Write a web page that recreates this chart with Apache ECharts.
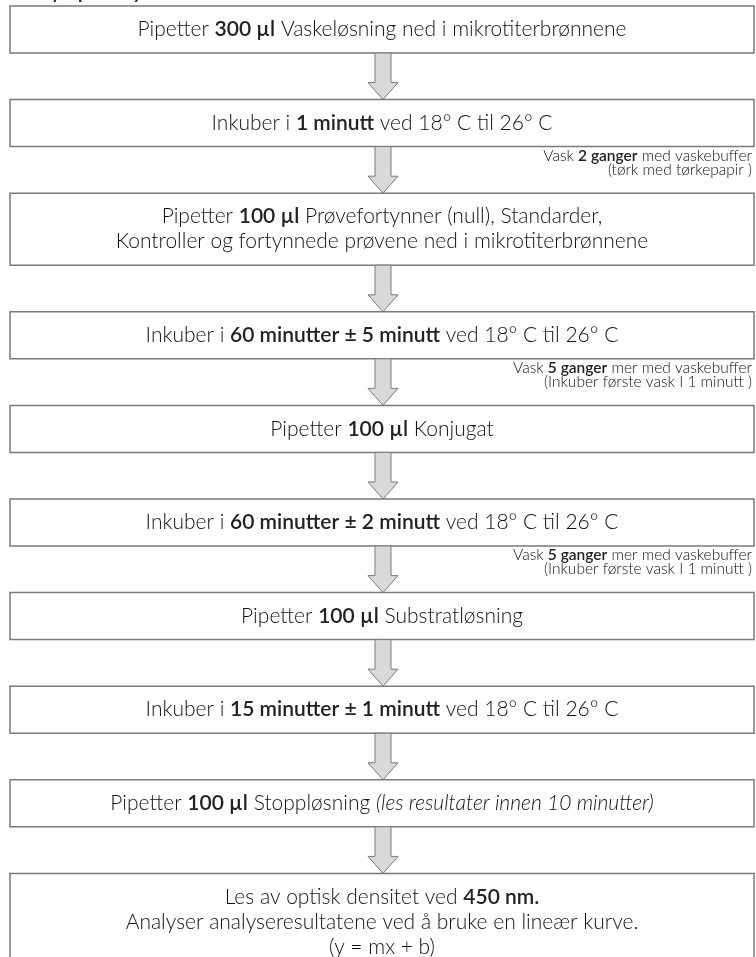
<!DOCTYPE html>
<html>
<head>
<meta charset="utf-8">
<script src="https://cdn.jsdelivr.net/npm/echarts@6/dist/echarts.min.js"></script>
<style>
    html, body { margin: 0; padding: 0; background: #fff; }
    #main { width: 756px; height: 957px; }
</style>
</head>
<body>
<div id="main"></div>
<script>
// tekst for hvert trinn i prosedyren
var pageTitle = 'Analyseprosedyre';
var steps = [
    'Pipetter {b|300 µl} Vaskeløsning ned i mikrotiterbrønnene',
    'Inkuber i {b|1 minutt} ved 18° C til 26° C',
    'Pipetter {b|100 µl} Prøvefortynner (null), Standarder,\nKontroller og fortynnede prøvene ned i mikrotiterbrønnene',
    'Inkuber i {b|60 minutter ± 5 minutt} ved 18° C til 26° C',
    'Pipetter {b|100 µl} Konjugat',
    'Inkuber i {b|60 minutter ± 2 minutt} ved 18° C til 26° C',
    'Pipetter {b|100 µl} Substratløsning',
    'Inkuber i {b|15 minutter ± 1 minutt} ved 18° C til 26° C',
    'Pipetter {b|100 µl} Stoppløsning {i|(les resultater innen 10 minutter)}',
    'Les av optisk densitet ved {b|450 nm.}\nAnalyser analyseresultatene ved å bruke en lineær kurve.\n(y = mx + b)'
];
// merknad ved pilen etter trinnet (tom = ingen)
var notes = [
    '',
    'Vask {b|2 ganger} med vaskebuffer\n(tørk med tørkepapir )',
    '',
    'Vask {b|5 ganger} mer med vaskebuffer\n(Inkuber første vask I 1 minutt )',
    '',
    'Vask {b|5 ganger} mer med vaskebuffer\n(Inkuber første vask I 1 minutt )',
    '',
    '',
    '',
    ''
];

var W = 756, H = 957;
var boxLeft = 10, boxRight = 754, arrowX = 383;
var firstTop = 6, oneLineH = 47, extraLineH = 25, gapH = 46.6;
var font = 'Lato, "Noto Sans", sans-serif';
var textColor = '#111';

var tops = [], bottoms = [];
var yy = firstTop;
for (var i = 0; i < steps.length; i++) {
    var n = steps[i].split('\n').length;
    tops.push(yy);
    bottoms.push(yy + oneLineH + (n - 1) * extraLineH);
    yy = bottoms[i] + gapH;
}

function richStyles(size, lh) {
    return {
        b: {fontWeight: 600, fontSize: size, fontFamily: font, lineHeight: lh, fill: '#222'},
        i: {fontStyle: 'italic', fontWeight: 300, fontSize: size, fontFamily: font, lineHeight: lh, fill: textColor}
    };
}

function renderItem(params, api) {
    var i = params.dataIndex;
    var children = [];
    var tl = api.coord([boxLeft, tops[i]]);
    var br = api.coord([boxRight, bottoms[i]]);
    children.push({
        type: 'rect',
        shape: {x: tl[0], y: tl[1], width: br[0] - tl[0], height: br[1] - tl[1]},
        style: {fill: '#fff', stroke: '#7a7a7a', lineWidth: 1.5}
    });
    var mid = api.coord([(boxLeft + boxRight) / 2, (tops[i] + bottoms[i]) / 2]);
    children.push({
        type: 'text',
        style: {
            text: steps[i],
            x: mid[0], y: mid[1],
            align: 'center', verticalAlign: 'middle',
            fontSize: 21, fontWeight: 300, fontFamily: font, lineHeight: 25, fill: textColor,
            rich: richStyles(21, 25)
        }
    });
    if (i < steps.length - 1) {
        var y0 = bottoms[i], y1 = tops[i + 1];
        var pts = [
            [arrowX - 8, y0], [arrowX + 8, y0], [arrowX + 8, y1 - 17], [arrowX + 15, y1 - 17],
            [arrowX, y1], [arrowX - 15, y1 - 17], [arrowX - 8, y1 - 17]
        ].map(function (p) { return api.coord(p); });
        children.push({
            type: 'polygon',
            shape: {points: pts},
            style: {fill: '#d9d9d9', stroke: '#7a7a7a', lineWidth: 1}
        });
        if (notes[i]) {
            var np = api.coord([752, y0 + 16]);
            children.push({
                type: 'text',
                style: {
                    text: notes[i],
                    x: np[0], y: np[1],
                    align: 'right', verticalAlign: 'middle',
                    fontSize: 15.5, fontWeight: 300, fontFamily: font, lineHeight: 14, fill: textColor,
                    rich: richStyles(15.5, 14)
                }
            });
        }
    }
    return {type: 'group', children: children};
}

var chart = echarts.init(document.getElementById('main'));
chart.setOption({
    animation: false,
    title: {
        text: pageTitle,
        left: 10, top: -21,
        textStyle: {fontSize: 18, fontWeight: 'bold', fontFamily: font, color: '#222'}
    },
    grid: {left: 0, right: 0, top: 0, bottom: 0},
    xAxis: {type: 'value', min: 0, max: W, show: false},
    yAxis: {type: 'value', min: 0, max: H, inverse: true, show: false},
    series: [{
        type: 'custom',
        renderItem: renderItem,
        clip: false,
        data: steps.map(function (s, i) { return [i]; })
    }]
});
</script>
</body>
</html>
